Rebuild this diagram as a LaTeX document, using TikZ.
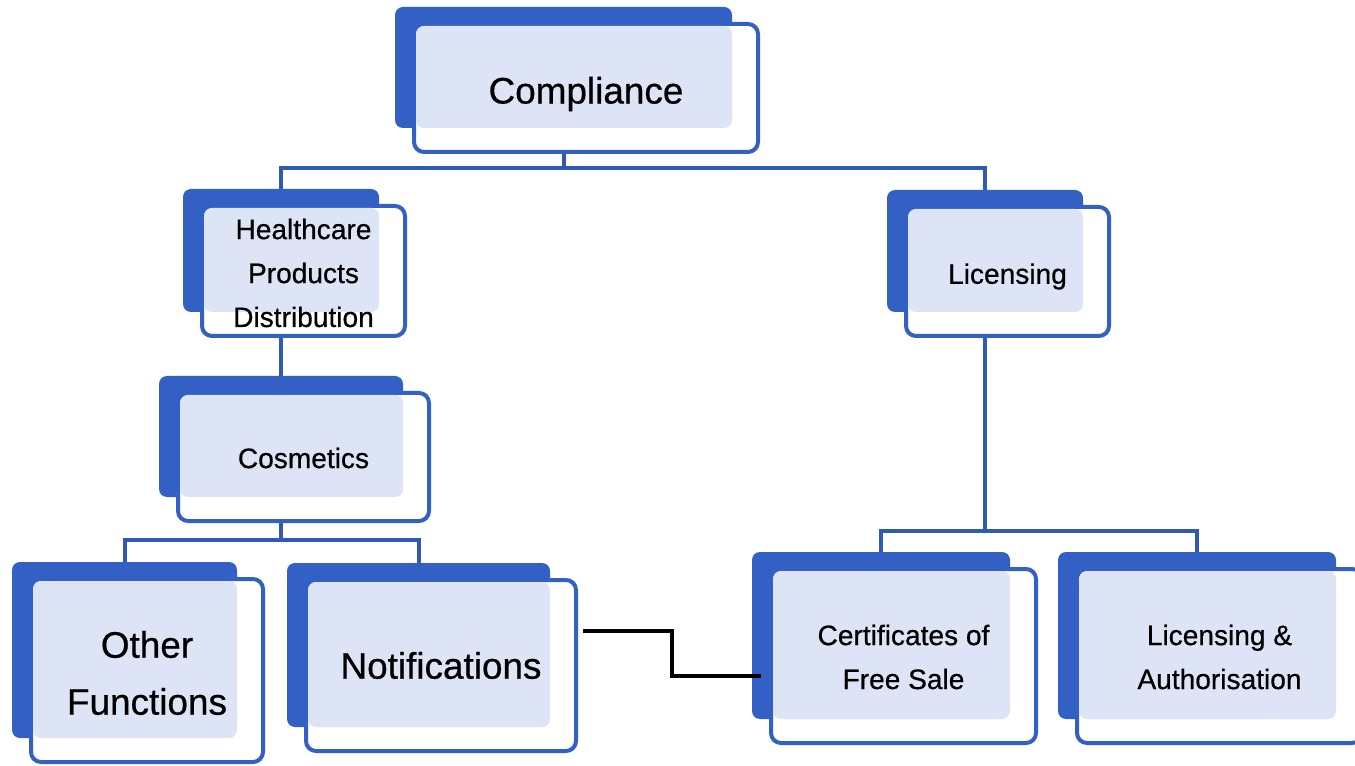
\documentclass[tikz,border=0pt]{standalone}
\usepackage{fontspec}
\setmainfont{Liberation Sans}
\newfontfamily\boxfont[FakeBold=0.6]{Liberation Sans}
\usetikzlibrary{backgrounds}

\definecolor{boxblue}{RGB}{51,96,197}
\definecolor{linkblue}{RGB}{47,90,183}
\definecolor{dotblue}{RGB}{221,228,246}

\tikzset{
  backbox/.style={fill=boxblue, rounded corners=0.16cm, inner sep=0, outer sep=0, anchor=north west},
  frontbox/.style={fill=white, draw=boxblue, line width=0.08cm, rounded corners=0.2cm, inner sep=0, outer sep=0, anchor=north west},
  dotfill/.style={fill=dotblue, rounded corners=0.16cm},
  smalltxt/.style={align=center, font=\boxfont\fontsize{16}{25}\selectfont},
  bigtxt/.style={align=center, font=\boxfont\fontsize{21}{32.4}\selectfont},
  link/.style={draw=linkblue, line width=0.08cm},
  crosslink/.style={draw=black, line width=0.08cm},
}

% name, x, y, width, height (of the back plate, in px), text style, text
\newcommand{\orgbox}[7]{%
  \node[backbox, minimum width=#4*0.02cm, minimum height=#5*0.02cm] (#1b) at (#2,#3) {};
  \node[frontbox, minimum width=(#4+7)*0.02cm, minimum height=(#5+7)*0.02cm] (#1) at (#2+19,#3+17) {};
  \fill[dotfill] (#2+21,#3+19) rectangle (#2+#4,#3+#5);
  \node[#6] (#1t) at (#1) {#7};
}

\begin{document}
\begin{tikzpicture}[x=0.02cm, y=-0.02cm]
    \useasboundingbox (0,0) rectangle (1355,766);

    % Boxes
    \orgbox{comp}{395}{7}{337}{121}{bigtxt, yshift=-0.12cm}{Compliance}
    \orgbox{hp}{183}{189}{196}{123}{smalltxt, yshift=-0.04cm}{Healthcare\\Products\\Distribution}
    \orgbox{lic}{887}{190}{196}{122}{smalltxt, yshift=-0.1cm}{Licensing}
    \orgbox{cos}{159}{376}{244}{121}{smalltxt, yshift=-0.02cm}{Cosmetics}
    \orgbox{oth}{12}{562}{225}{176}{bigtxt, yshift=-0.05cm}{Other\\Functions}
    \orgbox{nof}{287}{563}{263}{164}{bigtxt}{Notifications}
    \orgbox{cert}{752}{552}{258}{167}{smalltxt, yshift=-0.02cm}{Certificates of\\Free Sale}
    \orgbox{la}{1058}{552}{278}{167}{smalltxt, yshift=-0.02cm}{Licensing \&\\Authorisation}

    % Tree lines (behind the boxes)
    \begin{scope}[on background layer]
        \draw[link] (compb.south) -- ++(0,40) -| (hpb.north);
        \draw[link] (compb.south) -- ++(0,40) -| (licb.north);
        \draw[link] (hpb.south) -- (cosb.north);
        \draw[link] (cosb.south) -- ++(0,43) -| (othb.north);
        \draw[link] (cosb.south) -- ++(0,43) -| (nofb.north);
        \draw[link] (licb.south) -- ++(0,219) -| (certb.north);
        \draw[link] (licb.south) -- ++(0,219) -| (lab.north);
    \end{scope}

    % Cross link
    \draw[crosslink] ([shift={(7,-35)}]nof.east) -- ++(89,0) |- ([shift={(9,40)}]certb.west);
\end{tikzpicture}
\end{document}
